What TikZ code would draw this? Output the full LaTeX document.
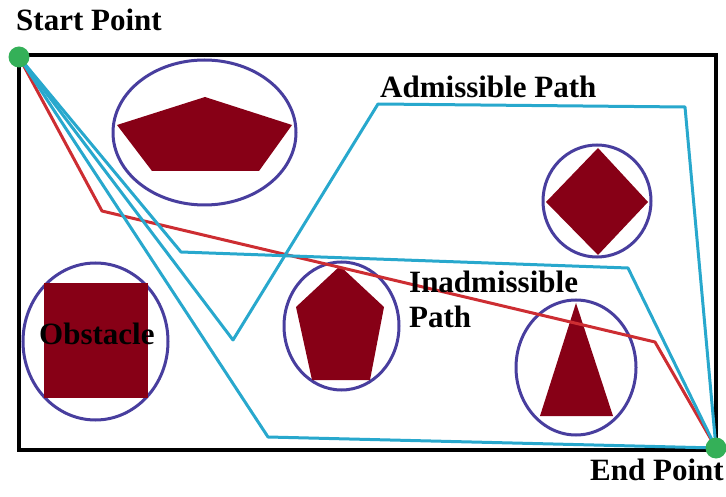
\documentclass[tikz,border=0pt]{standalone}
\usepackage{fontspec}
\setmainfont{Liberation Serif}
\usetikzlibrary{shapes.geometric}
\definecolor{pathcyan}{RGB}{40,168,205}
\definecolor{pathred}{RGB}{205,45,50}
\definecolor{ringblue}{RGB}{72,62,158}
\definecolor{obsred}{RGB}{135,0,22}
\definecolor{dotgreen}{RGB}{52,176,88}
\tikzset{
  frame/.style={draw=black, line width=3.5pt},
  ring/.style={ellipse, draw=ringblue, line width=3pt, inner sep=0pt},
  obst/.style={fill=obsred, draw=none},
  cyanpath/.style={draw=pathcyan, line width=3pt, line join=round},
  redpath/.style={draw=pathred, line width=3pt, line join=round},
  dot/.style={circle, fill=dotgreen, minimum size=21pt, inner sep=0pt},
  lbl/.style={font=\fontsize{31}{34}\selectfont\bfseries, inner sep=0pt, anchor=base west}
}
\begin{document}
\begin{tikzpicture}[x=1pt,y=-1pt]
\useasboundingbox (0,0) rectangle (726,497);
% frame
\draw[frame] (19,55) rectangle (716,450);
% obstacles
\node[ring, minimum width=183pt, minimum height=145pt] (ring1) at (204.5,132.5) {};
\fill[obst] (205,97) -- (292,125) -- (259,171) -- (152,171) -- (117,125) -- cycle;
\node[ring, minimum width=108pt, minimum height=112pt] (ring2) at (597,201) {};
\fill[obst] (598,148) -- (648,202) -- (598,255) -- (546,202) -- cycle;
\node[ring, minimum width=145pt, minimum height=157pt] (ring3) at (95.5,341.5) {};
\fill[obst] (44,283) rectangle (148,398);
\node[ring, minimum width=115pt, minimum height=128pt] (ring4) at (341.5,326) {};
\fill[obst] (340,266) -- (384,307) -- (370,380) -- (312,380) -- (296,307) -- cycle;
\node[ring, minimum width=120pt, minimum height=135pt] (ring5) at (576,367.5) {};
\fill[obst] (576,303) -- (613,416) -- (540,416) -- cycle;
% key points
\coordinate (S) at (19,57);
\coordinate (E) at (716,448);
\coordinate (r1) at (102,211);
\coordinate (r2) at (655,342);
\coordinate (a1) at (233,340);
\coordinate (a2) at (378,104);
\coordinate (a3) at (685,107);
\coordinate (b1) at (181,252);
\coordinate (b2) at (628,268);
\coordinate (c1) at (268,437);
% paths
\draw[redpath] (S) -- (r1) -- (r2) -- (E);
\draw[cyanpath] (S) -- (a1) -- (a2) -- (a3) -- (E);
\draw[cyanpath] (S) -- (b1) -- (b2) -- (E);
\draw[cyanpath] (S) -- (c1) -- (E);
% end points
\node[dot] (startdot) at (S) {};
\node[dot] (enddot) at (E) {};
% labels
\node[lbl] (startlbl) at (16,31) {Start Point};
\node[lbl] (admlbl) at (380,98) {Admissible Path};
\node[lbl] (obslbl) at (39,344) {Obstacle};
\node[lbl] (inadlbl) at (409,293) {Inadmissible};
\node[lbl] (inadlbl2) at (409,327) {Path};
\node[lbl] (endlbl) at (590,480) {End Point};
\end{tikzpicture}
\end{document}
